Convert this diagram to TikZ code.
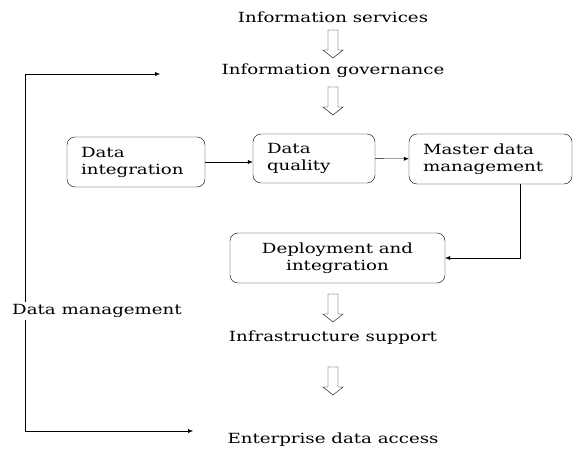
\documentclass[tikz,border=0pt]{standalone}
\usepackage{fontspec}
\setmainfont[FakeStretch=1.3]{DejaVu Serif}
\usetikzlibrary{arrows.meta}

\tikzset{
  lbl/.style={font=\fontsize{14}{17}\selectfont, inner sep=2pt, yshift=-2pt},
  box/.style={draw, rounded corners=8pt, minimum height=50pt, inner xsep=14pt,
    align=left, font=\fontsize{14}{17}\selectfont},
  hollow/.pic={\draw (-5,14) -- (5,14) -- (5,-6) -- (10,-6) -- (0,-14)
    -- (-10,-6) -- (-5,-6) -- cycle;},
  conn/.style={-{Latex[length=5pt,width=4pt]}}
}

\begin{document}
\begin{tikzpicture}[x=1pt,y=1pt]
  \useasboundingbox (0,0) rectangle (576,-450);

  % top of the stack
  \node[lbl] (serv) at (333,-15) {Information services};
  \pic at (333,-44) {hollow};
  \node[lbl] (gov) at (333,-69) {Information governance};
  \pic at (333,-101) {hollow};

  % the three boxes in a row
  \node[box, text width=110pt] (integ) at (136,-162) {Data\\integration};
  \node[box, text width=94pt, minimum height=49pt] (qual) at (314,-158.5) {Data\\quality};
  \node[box, text width=135pt] (mdm) at (490.5,-159) {Master data\\management};
  \node[box, align=center, minimum width=215pt] (deploy) at (337.5,-258) {Deployment and\\integration};

  \draw[conn] (integ.east) -- (integ.east -| qual.west);
  \draw[conn] (qual) -- (mdm);
  \draw[conn] ([xshift=30pt]mdm.south) |- (deploy.east);

  % bottom of the stack
  \pic at (333,-308) {hollow};
  \node[lbl] (infra) at (333,-336) {Infrastructure support};
  \pic at (333,-381) {hollow};
  \node[lbl] (ent) at (333,-438) {Enterprise data access};

  % data management bracket on the left
  \node[lbl] (dm) at (97,-309) {Data management};
  \coordinate (ltop) at (25,-74);
  \coordinate (lbot) at (25,-431);
  \coordinate (gtip) at (160,-74);
  \coordinate (etip) at (193,-431);
  \draw[conn] (dm.north -| ltop) -- (ltop) -- (gtip);
  \draw[conn] (dm.south -| lbot) -- (lbot) -- (etip);
\end{tikzpicture}
\end{document}
